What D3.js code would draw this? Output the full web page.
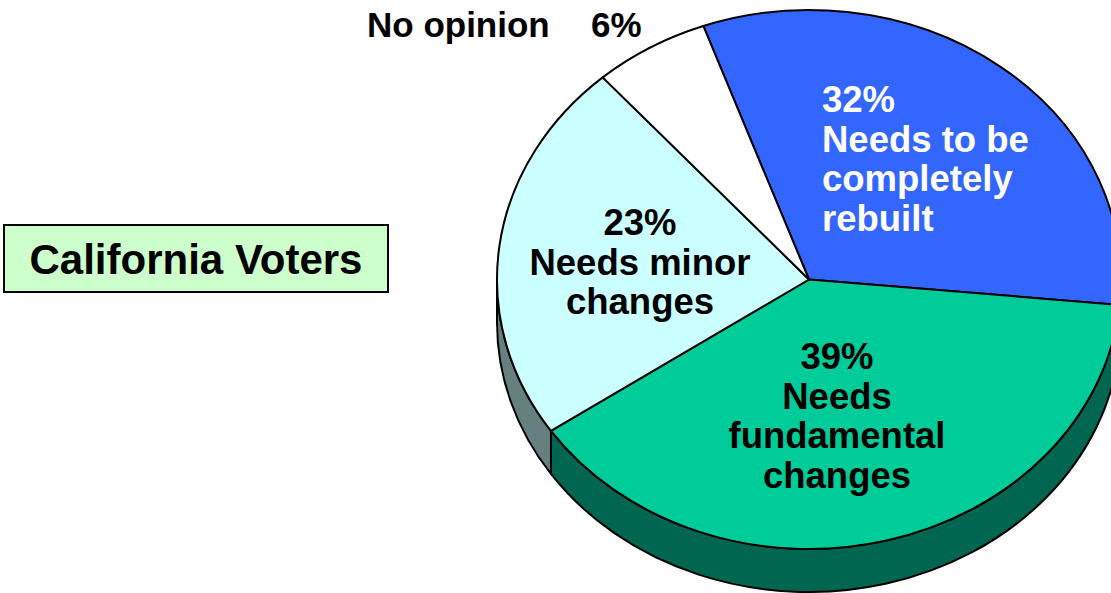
<!DOCTYPE html>
<html>
<head>
<meta charset="utf-8">
<script src="https://cdn.jsdelivr.net/npm/d3@7"></script>
<style>
  html, body { margin: 0; padding: 0; background: #fff; }
  svg { display: block; font-family: "Liberation Sans", Arial, sans-serif; font-weight: bold; }
</style>
</head>
<body>
<svg id="chart" width="1111" height="593"></svg>
<script>
const w = 1111;
const h = 593;

// data
var categories = ["Needs to be completely rebuilt", "Needs fundamental changes", "Needs minor changes", "No opinion"];
var values = [32, 39, 23, 6];
var topColors = ["#3366ff", "#00cc99", "#ccffff", "#ffffff"];
var sideColors = ["#1a3380", "#006650", "#668080", "#808080"];
var labelLines = [
  ["32%", "Needs to be", "completely", "rebuilt"],
  ["39%", "Needs", "fundamental", "changes"],
  ["23%", "Needs minor", "changes"],
  []
];
var title = "California Voters";

// pie geometry
const cx = 809, cy = 279.5, rx = 312, ry = 269.5, depth = 43;
const startDeg = -19.8;

var svg = d3.select("#chart");

var pie = d3.pie()
  .sort(null)
  .value(function (d) { return d; })
  .startAngle(startDeg * Math.PI / 180)
  .endAngle(startDeg * Math.PI / 180 + 2 * Math.PI);
var arcs = pie(values);

function pt(a, dy) {
  return [cx + rx * Math.sin(a), cy - ry * Math.cos(a) + (dy || 0)];
}

function topPath(d) {
  var p0 = pt(d.startAngle), p1 = pt(d.endAngle);
  var large = (d.endAngle - d.startAngle) > Math.PI ? 1 : 0;
  return "M" + cx + "," + cy + "L" + p0 + "A" + rx + "," + ry + " 0 " + large + " 1 " + p1 + "Z";
}

function wallPath(a0, a1) {
  var p0 = pt(a0), p1 = pt(a1), q0 = pt(a0, depth), q1 = pt(a1, depth);
  return "M" + p0 + "A" + rx + "," + ry + " 0 0 1 " + p1 +
    "L" + q1 + "A" + rx + "," + ry + " 0 0 0 " + q0 + "Z";
}

// visible front walls (angles between 90 and 270 deg)
var walls = [];
arcs.forEach(function (d, i) {
  var a0 = Math.max(d.startAngle, Math.PI / 2);
  var a1 = Math.min(d.endAngle, 3 * Math.PI / 2);
  if (a1 > a0) walls.push({ a0: a0, a1: a1, i: i });
});

svg.selectAll("path.wall")
  .data(walls)
  .enter()
  .append("path")
  .attr("class", "wall")
  .attr("d", function (d) { return wallPath(d.a0, d.a1); })
  .attr("fill", function (d) { return sideColors[d.i]; })
  .attr("stroke", "#000")
  .attr("stroke-width", 2)
  .attr("stroke-linejoin", "round");

svg.selectAll("path.slice")
  .data(arcs)
  .enter()
  .append("path")
  .attr("class", "slice")
  .attr("d", topPath)
  .attr("fill", function (d, i) { return topColors[i]; })
  .attr("stroke", "#000")
  .attr("stroke-width", 2)
  .attr("stroke-linejoin", "round");

// slice labels
var labelPos = [
  { x: 822, y: 112, anchor: "start", color: "#fff" },
  { x: 837, y: 369, anchor: "middle", color: "#000" },
  { x: 640, y: 235, anchor: "middle", color: "#000" }
];

labelPos.forEach(function (p, i) {
  var t = svg.append("text")
    .attr("x", p.x)
    .attr("y", p.y)
    .attr("text-anchor", p.anchor)
    .attr("fill", p.color)
    .attr("font-size", "36.5px");
  labelLines[i].forEach(function (line, j) {
    t.append("tspan")
      .attr("x", p.x)
      .attr("y", p.y + j * 39.5)
      .text(line);
  });
});

// outside label for the small slice
svg.append("text")
  .attr("x", 367)
  .attr("y", 37)
  .attr("font-size", "35px")
  .attr("fill", "#000")
  .text("No opinion");
svg.append("text")
  .attr("x", 591)
  .attr("y", 37)
  .attr("font-size", "35px")
  .attr("fill", "#000")
  .text(values[3] + "%");

// title box
svg.append("rect")
  .attr("x", 4)
  .attr("y", 225)
  .attr("width", 384)
  .attr("height", 67)
  .attr("fill", "#ccffcc")
  .attr("stroke", "#000")
  .attr("stroke-width", 2);
svg.append("text")
  .attr("x", 196)
  .attr("y", 274)
  .attr("text-anchor", "middle")
  .attr("font-size", "42px")
  .attr("fill", "#000")
  .text(title);
</script>
</body>
</html>
